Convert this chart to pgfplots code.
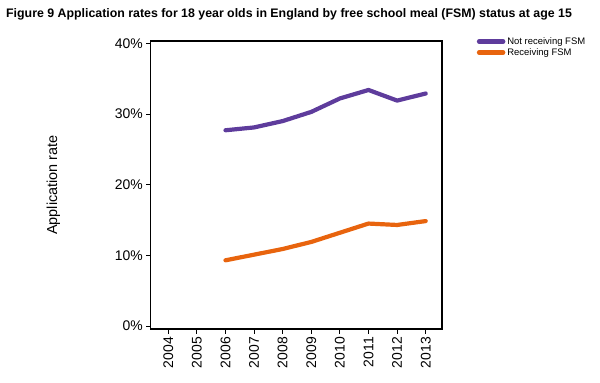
\documentclass[border=0pt]{standalone}
\usepackage{pgfplots}
\pgfplotsset{compat=1.18}
\usepackage{fontspec}
\setmainfont{Liberation Sans}
\definecolor{fsmpurple}{RGB}{94,60,156}
\definecolor{fsmorange}{RGB}{232,100,14}
\begin{document}
\begin{tikzpicture}[x=1bp,y=1bp]
\useasboundingbox (0,0) rectangle (600,382);
\node[anchor=base west, inner sep=0pt, font=\bfseries\fontsize{12.4}{14}\selectfont] at (6,365) {Figure 9 Application rates for 18 year olds in England by free school meal (FSM) status at age 15};
\begin{axis}[
  at={(150.7bp,53bp)}, anchor=south west,
  scale only axis, width=291.3bp, height=288bp,
  xmin=2003.385, xmax=2013.57,
  ymin=-0.42, ymax=40.33,
  axis line style={line width=1.2pt, black},
  xtick={2004,2005,...,2013},
  ytick={0,10,20,30,40},
  /pgf/number format/assume math mode=true,
  /pgf/number format/1000 sep={},
  yticklabel={\pgfmathprintnumber{\tick}\%},
  tick align=outside,
  major tick length=4.5bp,
  tick style={black, line width=0.8pt},
  xtick pos=bottom, ytick pos=left,
  xticklabel style={rotate=90, anchor=east, font=\fontsize{14}{16}\selectfont},
  yticklabel style={font=\fontsize{14}{16}\selectfont},
  ylabel={Application rate},
  ylabel style={font=\fontsize{14.5}{16}\selectfont, at={(-87bp,144bp)}, anchor=south},
  legend style={at={(1.119,1.02)}, anchor=north west, draw=none, fill=none,
    font=\fontsize{9.5}{9.5}\selectfont, inner sep=0pt, row sep=-1.5pt,
    /tikz/every even column/.append style={column sep=0pt}},
  legend cell align=left,
  legend image code/.code={\draw[#1, line width=4.5bp] (0bp,0bp) -- (24bp,0bp);},
]
\addplot[fsmpurple, line width=4.2bp, line join=round, line cap=round] coordinates {
(2006,27.7) (2007,28.1) (2008,29.0) (2009,30.3) (2010,32.2) (2011,33.4) (2012,31.9) (2013,32.9)};
\addlegendentry{Not receiving FSM}
\addplot[fsmorange, line width=4.2bp, line join=round, line cap=round] coordinates {
(2006,9.3) (2007,10.1) (2008,10.9) (2009,11.9) (2010,13.2) (2011,14.5) (2012,14.3) (2013,14.85)};
\addlegendentry{Receiving FSM}
\end{axis}
\end{tikzpicture}
\end{document}
